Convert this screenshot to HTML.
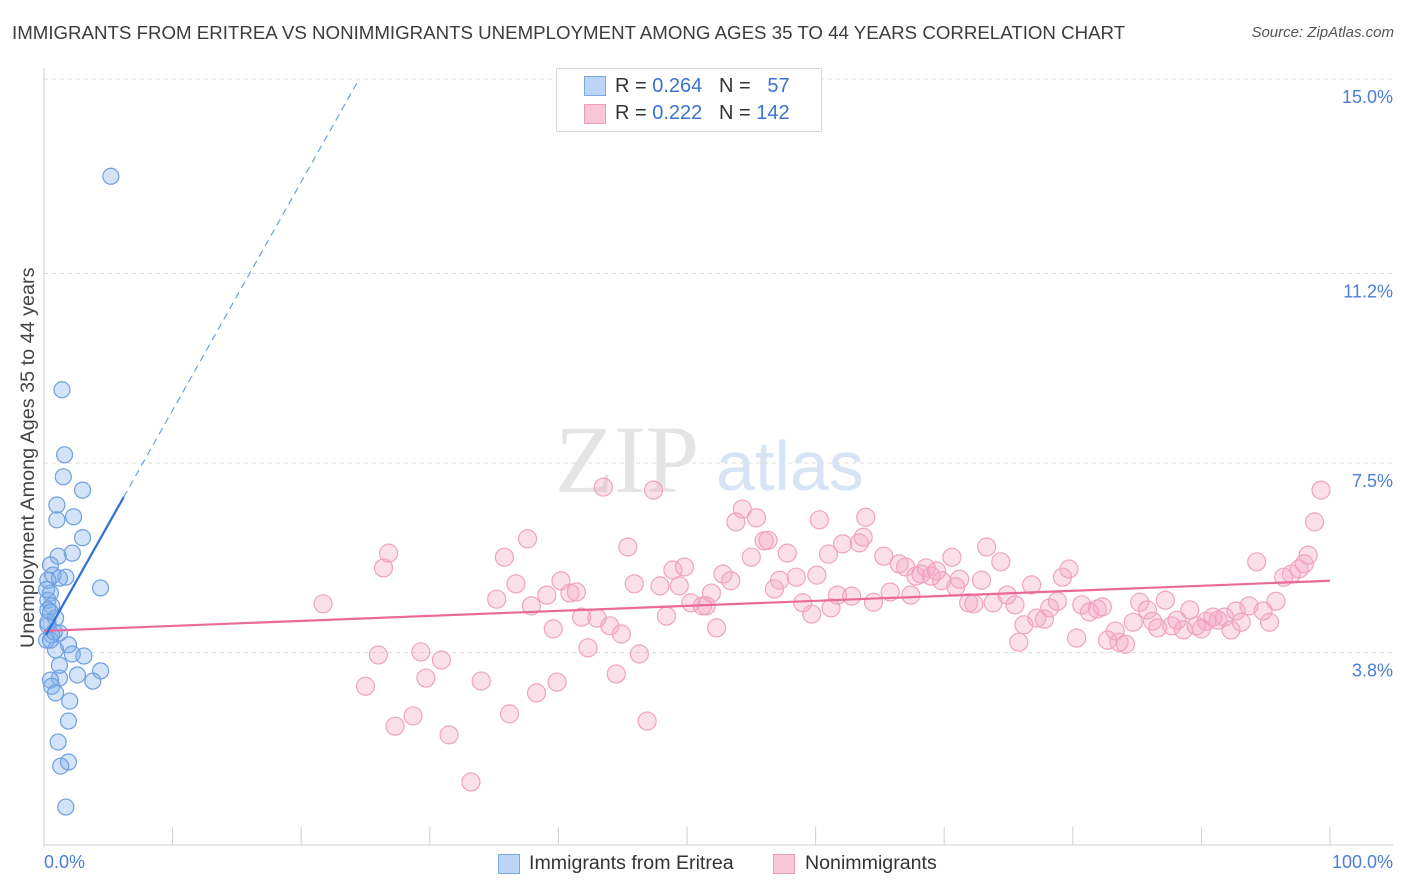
<!DOCTYPE html>
<html><head><meta charset="utf-8">
<style>
body{margin:0;background:#fff;font-family:"Liberation Sans",sans-serif;}
#wrap{position:relative;width:1406px;height:892px;overflow:hidden;}
.t{position:absolute;white-space:nowrap;}
</style></head>
<body>
<div id="wrap">
<div class="t" style="left:12px;top:22px;font-size:18.7px;color:#3c3c3c">IMMIGRANTS FROM ERITREA VS NONIMMIGRANTS UNEMPLOYMENT AMONG AGES 35 TO 44 YEARS CORRELATION CHART</div>
<div class="t" style="right:12px;top:24px;font-size:15px;color:#555;font-style:italic">Source: ZipAtlas.com</div>
<svg id="svg" width="1406" height="892" style="position:absolute;left:0;top:0"></svg>
</div>
<script>
const yTicks=[15.0,11.2,7.5,3.8];
const yTickLabels=["15.0%","11.2%","7.5%","3.8%"];
const blueX=[5.2,1.4,1.6,1.5,3.0,1.0,2.3,1.0,3.0,2.2,1.1,0.5,0.7,1.7,1.2,0.3,4.4,0.5,0.3,0.6,0.3,0.9,0.3,1.2,0.6,0.2,1.9,0.9,2.2,3.1,1.2,4.4,2.6,1.2,0.5,3.8,0.6,0.9,2.0,1.9,1.1,1.9,1.3,1.7,0.3,0.5,0.2,0.5,0.8];
const blueY=[13.1,8.93,7.66,7.23,6.97,6.68,6.45,6.39,6.04,5.74,5.68,5.51,5.31,5.27,5.25,5.21,5.06,4.96,4.82,4.71,4.63,4.47,4.39,4.18,4.14,4.04,3.95,3.85,3.77,3.73,3.55,3.44,3.36,3.30,3.26,3.24,3.14,3.01,2.85,2.46,2.05,1.66,1.58,0.78,4.33,4.59,5.03,4.04,4.2];
const pinkX=[21.7,26.8,26.4,26.0,25.0,27.3,28.7,29.3,29.7,30.9,31.5,33.2,34.0,35.2,35.8,36.2,36.7,37.6,37.9,38.3,39.1,39.6,39.9,40.2,40.9,41.4,41.8,42.3,43.0,43.5,44.0,44.5,44.9,45.4,45.9,46.3,46.9,47.4,47.9,48.4,48.9,49.4,49.8,50.3,51.2,51.5,51.9,52.3,52.8,53.4,53.8,54.3,55.0,55.4,56.0,56.3,56.8,57.2,57.8,58.5,59.0,59.7,60.1,60.3,61.0,61.2,61.7,62.1,62.8,63.4,63.7,63.9,64.5,65.3,65.8,66.5,67.0,67.4,67.8,68.2,68.6,69.0,69.4,69.8,70.6,70.9,71.2,71.9,72.3,72.9,73.3,73.8,74.4,74.9,75.5,75.8,76.2,76.8,77.2,77.8,78.2,78.8,79.2,79.7,80.3,80.7,81.3,81.9,82.3,82.7,83.3,83.6,84.1,84.7,85.2,85.8,86.2,86.6,87.2,87.7,88.1,88.6,89.1,89.6,90.0,90.4,90.9,91.3,91.8,92.3,92.7,93.1,93.7,94.3,94.8,95.3,95.8,96.4,97.0,97.6,98.0,98.3,98.8,99.3];
const pinkY=[4.75,5.74,5.45,3.75,3.14,2.36,2.56,3.81,3.30,3.65,2.19,1.27,3.24,4.84,5.66,2.60,5.14,6.02,4.71,3.01,4.92,4.26,3.22,5.20,4.96,4.98,4.49,3.89,4.47,7.03,4.32,3.38,4.16,5.86,5.14,3.77,2.46,6.97,5.10,4.51,5.41,5.10,5.47,4.77,4.71,4.71,4.96,4.28,5.33,5.20,6.35,6.60,5.66,6.43,5.98,5.99,5.04,5.21,5.74,5.27,4.77,4.55,5.31,6.39,5.72,4.67,4.92,5.92,4.90,5.94,6.05,6.44,4.78,5.68,4.98,5.53,5.47,4.92,5.29,5.33,5.45,5.29,5.39,5.20,5.66,5.08,5.23,4.77,4.75,5.21,5.86,4.77,5.57,4.92,4.73,4.00,4.34,5.12,4.47,4.45,4.67,4.80,5.27,5.43,4.08,4.73,4.59,4.65,4.69,4.04,4.22,4.00,3.96,4.39,4.78,4.63,4.41,4.28,4.82,4.32,4.43,4.24,4.63,4.32,4.26,4.41,4.49,4.43,4.49,4.24,4.61,4.39,4.71,5.57,4.61,4.39,4.80,5.27,5.33,5.43,5.53,5.70,6.35,6.97];
const blueTrend=[4.07,0.446];
const pinkTrend=[4.22,0.0098];

const NS="http://www.w3.org/2000/svg";
const svg=document.getElementById('svg');
const X=v=>44+v*12.86;
const Y=v=>847-v*51.2;
function mk(tag,attrs,parent){const e=document.createElementNS(NS,tag);for(const k in attrs)e.setAttribute(k,attrs[k]);(parent||svg).appendChild(e);return e;}

yTicks.forEach((v,i)=>{
  const g=mk('line',{x1:44,x2:1393,y1:Y(v),y2:Y(v),stroke:'#dcdcdc','stroke-dasharray':'4,4'});
  
  
  const t=mk('text',{x:1393,y:Y(v)+24,'text-anchor':'end','font-size':18,fill:'#4a7fd6','font-family':'Liberation Sans, sans-serif'});
  t.textContent=yTickLabels[i];
  
  
});
let a=mk('line',{x1:44,x2:44,y1:68,y2:847,stroke:'#cfcfcf'});


a=mk('line',{x1:44,x2:1393,y1:845,y2:845,stroke:'#cfcfcf'});


for(let i=1;i<=10;i++){
  const tk=mk('line',{x1:X(i*10),x2:X(i*10),y1:827,y2:845,stroke:'#cfcfcf'});
  
  
}
let w=mk('text',{x:555,y:492,'font-size':96,fill:'#e4e4e4','font-family':'Liberation Serif, serif'});w.textContent='ZIP';


w=mk('text',{x:716,y:490,'font-size':70,fill:'#d6e4f5','font-family':'Liberation Sans, sans-serif'});w.textContent='atlas';



pinkX.forEach((x,i)=>{
  const c=mk('circle',{cx:X(x),cy:Y(pinkY[i]),r:9,fill:'rgba(244,165,195,0.35)',stroke:'#f0a3bf','stroke-width':1.2});
  
  
});
blueX.forEach((x,i)=>{
  const c=mk('circle',{cx:X(x),cy:Y(blueY[i]),r:8,fill:'rgba(130,175,235,0.35)',stroke:'#6e9fe2','stroke-width':1.2});
  
  
});
let l=mk('line',{x1:X(0),y1:Y(pinkTrend[0]),x2:X(100),y2:Y(pinkTrend[0]+pinkTrend[1]*100),stroke:'#e96a98','stroke-width':2.2});


const bx=[0.15,6.2,24.5];
l=mk('line',{x1:X(bx[0]),y1:Y(blueTrend[0]+blueTrend[1]*bx[0]),x2:X(bx[1]),y2:Y(blueTrend[0]+blueTrend[1]*bx[1]),stroke:'#2f6fd8','stroke-width':2.2});


l=mk('line',{x1:X(bx[1]),y1:Y(blueTrend[0]+blueTrend[1]*bx[1]),x2:X(bx[2]),y2:Y(blueTrend[0]+blueTrend[1]*bx[2]),stroke:'#6e9fe2','stroke-width':1.2,'stroke-dasharray':'7,5'});


</script>

<div class="t" style="left:44px;top:852px;font-size:18px;color:#4a7fd6">0.0%</div>
<div class="t" style="right:13px;top:852px;font-size:18px;color:#4a7fd6">100.0%</div>
<div class="t" style="font-size:19.8px;color:#444;transform:rotate(-90deg);transform-origin:0 0;left:17px;top:648px">Unemployment Among Ages 35 to 44 years</div>

<div style="position:absolute;left:556px;top:68px;width:264px;height:62px;border:1px solid #d8d8d8;background:#fff">
  <div style="position:absolute;left:27px;top:7px;width:20px;height:18px;background:#bcd4f5;border:1px solid #7aa7e6"></div>
  <div class="t" style="left:58px;top:6px;font-size:20px;color:#333">R = <span style="color:#3b73d1">0.264</span>&nbsp;&nbsp;&nbsp;N = &nbsp;&nbsp;<span style="color:#3b73d1">57</span></div>
  <div style="position:absolute;left:27px;top:35px;width:20px;height:18px;background:#f9c8d8;border:1px solid #ef9ab8"></div>
  <div class="t" style="left:58px;top:33px;font-size:20px;color:#333">R = <span style="color:#3b73d1">0.222</span>&nbsp;&nbsp;&nbsp;N = <span style="color:#3b73d1">142</span></div>
</div>

<div style="position:absolute;left:498px;top:854px;width:20px;height:18px;background:#bcd4f5;border:1px solid #7aa7e6"></div>
<div class="t" style="left:529px;top:852px;font-size:19.6px;color:#333">Immigrants from Eritrea</div>
<div style="position:absolute;left:773px;top:854px;width:20px;height:18px;background:#f9c8d8;border:1px solid #ef9ab8"></div>
<div class="t" style="left:805px;top:852px;font-size:19.6px;color:#333">Nonimmigrants</div>
</body></html>
